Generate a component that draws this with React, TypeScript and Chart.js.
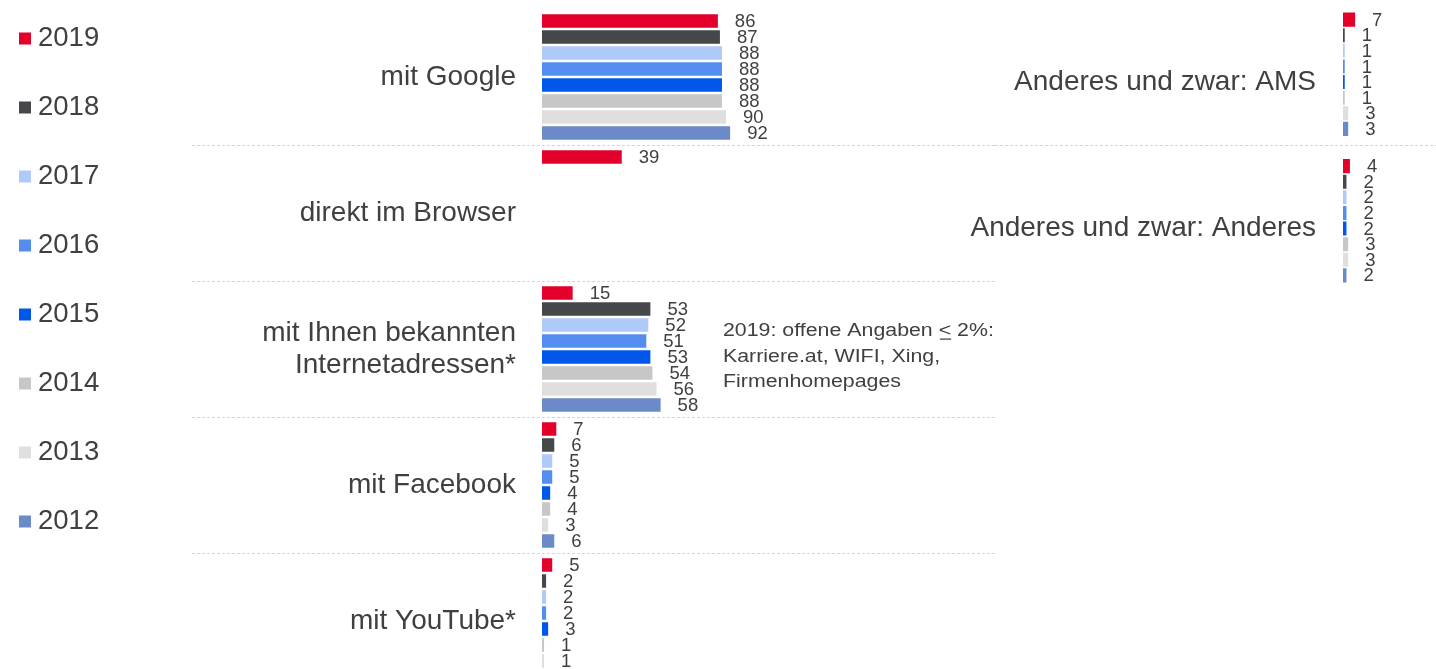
import React, { useEffect, useRef } from "react";
import { Chart, registerables } from "chart.js";

Chart.register(...registerables);

const FONT = "'Liberation Sans', Arial, Helvetica, sans-serif";
const TEXT = "#404040";
const GRIDLINE = "#d6d6d6";

// Series (top to bottom inside each group)
const years = ["2019", "2018", "2017", "2016", "2015", "2014", "2013", "2012"];
const yearColors = ["#E3002B", "#45474A", "#AFC9F8", "#548DF0", "#0057E9", "#C7C7C7", "#DFDFDF", "#6A8BC8"];

// Left panel
const leftCategories: (string | string[])[] = [
  "mit Google",
  "direkt im Browser",
  ["mit Ihnen bekannten", "Internetadressen*"],
  "mit Facebook",
  "mit YouTube*",
];
const left2019 = [86, 39, 15, 7, 5];
const left2018 = [87, null, 53, 6, 2];
const left2017 = [88, null, 52, 5, 2];
const left2016 = [88, null, 51, 5, 2];
const left2015 = [88, null, 53, 4, 3];
const left2014 = [88, null, 54, 4, 1];
const left2013 = [90, null, 56, 3, 1];
const left2012 = [92, null, 58, 6, null];
const leftSeries = [left2019, left2018, left2017, left2016, left2015, left2014, left2013, left2012];

// Right panel
const rightCategories = ["Anderes und zwar: AMS", "Anderes und zwar: Anderes"];
const right2019 = [7, 4];
const right2018 = [1, 2];
const right2017 = [1, 2];
const right2016 = [1, 2];
const right2015 = [1, 2];
const right2014 = [1, 3];
const right2013 = [3, 3];
const right2012 = [3, 2];
const rightSeries = [right2019, right2018, right2017, right2016, right2015, right2014, right2013, right2012];

// Note text
const noteLine1Before = "2019: offene Angaben ";
const noteLine1Sign = "<";
const noteLine1After = " 2%:";
const noteLine2 = "Karriere.at, WIFI, Xing,";
const noteLine3 = "Firmenhomepages";

const valueLabels = {
  id: "valueLabels",
  afterDatasetsDraw(chart: any) {
    const { ctx } = chart;
    ctx.save();
    ctx.font = `18.5px ${FONT}`;
    ctx.fillStyle = TEXT;
    ctx.textAlign = "left";
    ctx.textBaseline = "middle";
    chart.data.datasets.forEach((ds: any, di: number) => {
      const meta = chart.getDatasetMeta(di);
      meta.data.forEach((bar: any, i: number) => {
        const v = ds.data[i];
        if (v === null || v === undefined) return;
        ctx.fillText(String(v), bar.x + 17, bar.y + 1);
      });
    });
    ctx.restore();
  },
};

const separators = {
  id: "separators",
  beforeDatasetsDraw(chart: any, _args: any, opts: any) {
    const { ctx } = chart;
    const y = chart.scales.y;
    const n = chart.data.labels.length;
    ctx.save();
    ctx.strokeStyle = GRIDLINE;
    ctx.lineWidth = 1;
    ctx.setLineDash([3, 2]);
    for (let i = 0; i < n - 1; i++) {
      const yy = Math.round((y.getPixelForValue(i) + y.getPixelForValue(i + 1)) / 2 + (opts.shift || 0)) + 0.5;
      ctx.beginPath();
      ctx.moveTo(opts.x0, yy);
      ctx.lineTo(opts.x1, yy);
      ctx.stroke();
    }
    ctx.restore();
  },
};

const sideLegend = {
  id: "sideLegend",
  afterDraw(chart: any) {
    const { ctx } = chart;
    ctx.save();
    ctx.font = `27.5px ${FONT}`;
    ctx.textAlign = "left";
    ctx.textBaseline = "middle";
    chart.data.datasets.forEach((ds: any, i: number) => {
      const cy = 38 + i * 69;
      ctx.fillStyle = ds.backgroundColor;
      ctx.fillRect(19, cy - 5.5, 12, 12);
      ctx.fillStyle = TEXT;
      ctx.fillText(ds.label, 38, cy);
    });
    ctx.restore();
  },
};

const noteText = {
  id: "noteText",
  afterDraw(chart: any) {
    const { ctx } = chart;
    const yScale = chart.scales.y;
    const baseY = yScale.getPixelForValue(2);
    const x = chart.chartArea.left + 181;
    const sx = 1.22;
    ctx.save();
    ctx.font = `17.5px ${FONT}`;
    ctx.fillStyle = TEXT;
    ctx.textAlign = "left";
    ctx.textBaseline = "middle";
    const lines = [baseY - 18, baseY + 8, baseY + 33];
    ctx.save();
    ctx.translate(x, lines[0]);
    ctx.scale(sx, 1);
    const w1 = ctx.measureText(noteLine1Before).width;
    const w2 = ctx.measureText(noteLine1Sign).width;
    ctx.fillText(noteLine1Before, 0, 0);
    ctx.fillText(noteLine1Sign, w1, 0);
    ctx.fillText(noteLine1After, w1 + w2, 0);
    ctx.fillRect(w1 + 1, 7.5, w2 - 1, 1.2);
    ctx.restore();
    ctx.save();
    ctx.translate(x, lines[1]);
    ctx.scale(sx, 1);
    ctx.fillText(noteLine2, 0, 0);
    ctx.restore();
    ctx.save();
    ctx.translate(x, lines[2]);
    ctx.scale(sx, 1);
    ctx.fillText(noteLine3, 0, 0);
    ctx.restore();
    ctx.restore();
  },
};

function makeDatasets(series: (number | null)[][], catPct: number, barPct: number) {
  return years.map((yr, i) => ({
    label: yr,
    data: series[i],
    backgroundColor: yearColors[i],
    borderWidth: 0,
    categoryPercentage: catPct,
    barPercentage: barPct,
  }));
}

function fixYAxis(width: number) {
  return (s: any) => {
    s.width = width;
    s.paddingTop = 0;
    s.paddingBottom = 0;
  };
}

export default function App() {
  const leftRef = useRef<HTMLCanvasElement>(null);
  const rightRef = useRef<HTMLCanvasElement>(null);

  useEffect(() => {
    const left = new Chart(leftRef.current!, {
      type: "bar",
      data: {
        labels: leftCategories as any,
        datasets: makeDatasets(leftSeries, 0.94, 0.84) as any,
      },
      options: {
        indexAxis: "y",
        animation: false,
        responsive: false,
        devicePixelRatio: 1,
        layout: { padding: { top: 9, right: 253.5, bottom: 0, left: 0 } },
        scales: {
          x: { display: false, min: 0, max: 100 },
          y: {
            grid: { display: false, drawTicks: false },
            border: { display: false },
            ticks: {
              color: TEXT,
              font: { size: 28, family: FONT, lineHeight: 1.15 },
              padding: 26,
              autoSkip: false,
            },
            afterFit: fixYAxis(542),
          },
        },
        plugins: {
          legend: { display: false },
          tooltip: { enabled: false },
          separators: { x0: 192, x1: 995 },
        } as any,
      },
      plugins: [separators, valueLabels, sideLegend, noteText],
    });

    const right = new Chart(rightRef.current!, {
      type: "bar",
      data: {
        labels: rightCategories,
        datasets: makeDatasets(rightSeries, 0.852, 0.9) as any,
      },
      options: {
        indexAxis: "y",
        animation: false,
        responsive: false,
        devicePixelRatio: 1,
        layout: { padding: { top: 1, right: 58.4, bottom: 0, left: 0 } },
        scales: {
          x: { display: false, min: 0, max: 20 },
          y: {
            grid: { display: false, drawTicks: false },
            border: { display: false },
            ticks: {
              color: TEXT,
              font: { size: 28, family: FONT },
              padding: 27,
              labelOffset: 8,
              autoSkip: false,
            },
            afterFit: fixYAxis(403),
          },
        },
        plugins: {
          legend: { display: false },
          tooltip: { enabled: false },
          separators: { x0: 55, x1: 496, shift: -2.6 },
        } as any,
      },
      plugins: [separators, valueLabels],
    });

    return () => {
      left.destroy();
      right.destroy();
    };
  }, []);

  return (
    <div
      style={{
        position: "absolute",
        left: 0,
        top: 0,
        width: 1436,
        height: 669,
        overflow: "hidden",
        background: "#ffffff",
      }}
    >
      <canvas ref={leftRef} width={1000} height={689} style={{ position: "absolute", left: 0, top: 0 }} />
      <canvas ref={rightRef} width={496} height={294} style={{ position: "absolute", left: 940, top: 0 }} />
    </div>
  );
}
